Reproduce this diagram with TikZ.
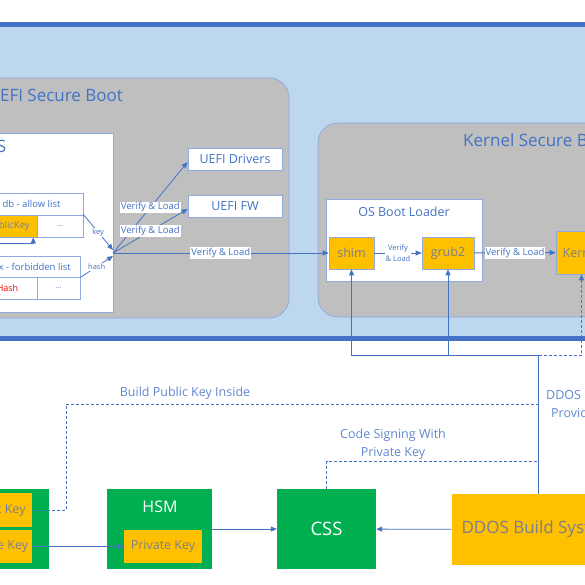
\documentclass[tikz,border=0pt]{standalone}
\usepackage{fontspec}
\setmainfont{Open Sans}
\usetikzlibrary{arrows.meta}

\definecolor{paleblue}{HTML}{BDD7EE}
\definecolor{darkblue}{HTML}{4472C4}
\definecolor{boxline}{HTML}{8FAADC}
\definecolor{boxgray}{HTML}{BFBFBF}
\definecolor{keyorange}{HTML}{FFC000}
\definecolor{hsmgreen}{HTML}{00B050}
\definecolor{keytext}{HTML}{7B7F8C}
\definecolor{warnorange}{HTML}{ED7D31}

\begin{document}
\begin{tikzpicture}[x=1pt,y=-1pt,
        area/.style={draw=boxline, fill=boxgray, line width=0.8pt, rounded corners=20pt, inner sep=0pt},
        panel/.style={draw=boxline, fill=white, line width=0.8pt, inner sep=0pt},
        cell/.style={draw=boxline, fill=white, line width=0.8pt, inner sep=0pt, text=darkblue, font=\fontsize{9.5}{11}\selectfont},
        keycell/.style={draw=boxline, fill=keyorange, line width=0.6pt, inner sep=0pt, text=keytext},
        greenbox/.style={fill=hsmgreen, inner sep=0pt},
        heading/.style={text=darkblue, inner sep=0pt},
        flow/.style={draw=darkblue, line width=0.8pt, -{Triangle[length=6pt,width=5pt]}},
        weak/.style={draw=darkblue, line width=0.8pt, dash pattern=on 3pt off 2pt},
        vlabel/.style={fill=white, inner sep=1pt, text=darkblue, font=\fontsize{9.5}{11}\selectfont},
        note/.style={text=darkblue!85, font=\fontsize{12.5}{18}\selectfont, align=center, inner sep=0pt}]
    \useasboundingbox (0,0) rectangle (585,585);

    % platform band
    \node[fill=paleblue, inner sep=0pt, minimum width=645, minimum height=313](platform) at (292.5,181.5) {};
    \draw[darkblue, line width=5pt] (platform.north west) -- (platform.north east);
    \draw[darkblue, line width=5pt] (platform.south west) -- (platform.south east);

    % uefi secure boot
    \node[area, minimum width=329, minimum height=240](uefi) at (124.5,198) {};
    \node[heading, anchor=west, font=\fontsize{17}{20}\selectfont](uefititle) at (-12.5,95) {UEFI Secure Boot};
    \node[panel, minimum width=153, minimum height=179](bios) at (36.5,222.5) {};
    \node[heading, anchor=east, font=\fontsize{17}{20}\selectfont](biostitle) at (6.5,146) {BIOS};

    \node[cell, minimum width=103, minimum height=22](dbhead) at (31.5,204) {db - allow list};
    \node[keycell, minimum width=57, minimum height=22, font=\fontsize{9.5}{11}\selectfont](dbpk) at (8.5,226) {PublicKey};
    \node[cell, minimum width=46, minimum height=22, font=\fontsize{7}{8}\selectfont](dbmore) at (60,226) {...};
    \node[cell, minimum width=102, minimum height=21](dbxhead) at (29,266.5) {dbx - forbidden list};
    \node[cell, minimum width=59, minimum height=22, text=red, font=\fontsize{9}{11}\selectfont](dbxhash) at (7.5,288) {Hash};
    \node[cell, minimum width=43, minimum height=22, font=\fontsize{7}{8}\selectfont](dbxmore) at (58.5,288) {...};
    \coordinate (pkin) at (-30,243);
    \coordinate (hub) at (113,253);

    \node[cell, minimum width=94, minimum height=22, font=\fontsize{12.5}{14}\selectfont](drivers) at (235,159) {UEFI Drivers};
    \node[cell, minimum width=94, minimum height=22, font=\fontsize{12.5}{14}\selectfont](fw) at (235,206) {UEFI FW};

    % kernel secure boot
    \node[area, minimum width=452, minimum height=194](kernelsb) at (544,220) {};
    \node[heading, anchor=west, font=\fontsize{17}{20}\selectfont](kerneltitle) at (463,140) {Kernel Secure Boot};
    \node[panel, minimum width=156, minimum height=82](loader) at (404,240) {};
    \node[heading, font=\fontsize{12.5}{14}\selectfont](loadertitle) at (404,212) {OS Boot Loader};
    \node[keycell, minimum width=45, minimum height=32, font=\fontsize{12.5}{14}\selectfont](shim) at (351.5,253) {shim};
    \node[keycell, minimum width=52, minimum height=32, font=\fontsize{12.5}{14}\selectfont](grub) at (448,253) {grub2};
    \node[keycell, minimum width=51, minimum height=43, font=\fontsize{12.5}{14}\selectfont](kernel) at (581.5,252.5) {Kernel};

    % build side
    \node[greenbox, minimum width=89, minimum height=80](keys) at (4.5,529) {};
    \node[keycell, draw=none, minimum width=72, minimum height=34, font=\fontsize{12.5}{14}\selectfont](pubkey) at (-4,510) {Public Key};
    \node[keycell, draw=none, minimum width=72, minimum height=33, font=\fontsize{12.5}{14}\selectfont](privkey) at (-4,546.5) {Private Key};
    \node[greenbox, minimum width=105, minimum height=80](hsm) at (159.5,529) {};
    \node[text=white, font=\fontsize{16}{18}\selectfont](hsmtitle) at (160,507) {HSM};
    \node[keycell, draw=none, minimum width=78, minimum height=33, font=\fontsize{12.5}{14}\selectfont](hsmpk) at (163,546.5) {Private Key};
    \node[greenbox, minimum width=99, minimum height=80, text=white, font=\fontsize{18.5}{20}\selectfont](css) at (326.5,529) {CSS};
    \node[keycell, draw=none, minimum width=173, minimum height=71, font=\fontsize{17}{20}\selectfont](ddos) at (538.5,529.5) {DDOS Build System};
    \coordinate (tap) at (538.5,355);
    \coordinate (pkturn) at (66,404);
    \coordinate (pkjoin) at (538.5,404);
    \coordinate (csjoin) at (538.5,461);

    \path
        (dbmore.north east) edge [flow] node[vlabel, font=\fontsize{7.5}{9}\selectfont] {key} ([yshift=3pt]hub)
        (dbxhead.south east) edge [flow] node[vlabel, font=\fontsize{7.5}{9}\selectfont] {hash} ([yshift=-3pt]hub)
        (hub)
            edge [flow] node[vlabel] {Verify \& Load} ([yshift=-3pt]drivers.west)
            edge [flow] node[vlabel] {Verify \& Load} ([yshift=-3pt]fw.west)
            edge [flow] node[vlabel] {Verify \& Load} (shim.west)
        (shim) edge [flow] node[vlabel, align=center, font=\fontsize{7.5}{11}\selectfont] {Verify\\\& Load} (grub)
        (grub) edge [flow] node[vlabel] {Verify \& Load} (kernel)
        (privkey) edge [flow] (hsmpk)
        (hsm) edge [flow] (css)
        (ddos) edge [flow] (css)
        ;
    \draw[flow] (pkin) -| ([xshift=-4pt]dbpk.south east);

    \draw[draw=darkblue, line width=0.8pt] (ddos.north) -- (tap);
    \draw[flow] (tap) -| (shim.south);
    \draw[flow] (tap) -| (grub.south);
    \draw[weak, -{Triangle[length=6pt,width=5pt]}] (tap) -| (kernel.south);
    \draw[weak] (pubkey.east) -| (pkturn) -- (pkjoin);
    \draw[weak] (css.north) |- (csjoin);

    \node[note](buildnote) at (185,393) {Build Public Key Inside};
    \node[note](signnote) at (393,444.5) {Code Signing With\\Private Key};
    \node[note, anchor=north west, align=left](ddosnote) at (546,390) {DDOS \textcolor{warnorange}{Image}\\\hspace*{5pt}Provides};
\end{tikzpicture}
\end{document}
